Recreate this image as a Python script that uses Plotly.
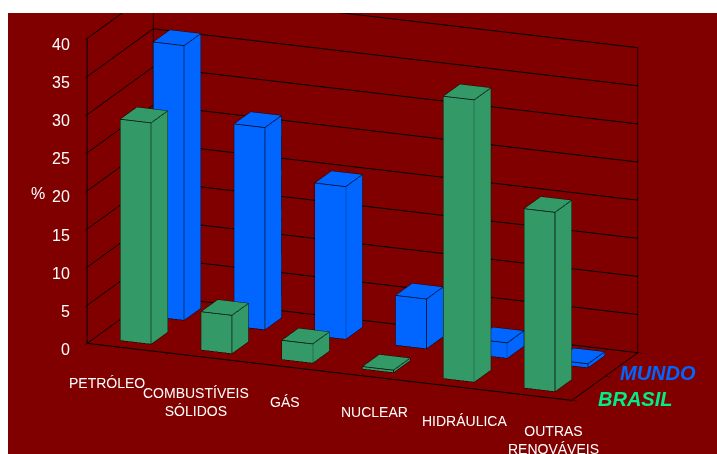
import plotly.graph_objects as go

# Participação de cada fonte na oferta de energia (%)
categorias = ["PETRÓLEO", "COMBUSTÍVEIS<br>SÓLIDOS", "GÁS", "NUCLEAR", "HIDRÁULICA", "OUTRAS<br>RENOVÁVEIS"]
brasil = [29.0, 5.0, 2.5, 0.3, 37.0, 23.5]
mundo = [36.0, 26.5, 20.0, 6.5, 2.0, 0.5]
series_nomes = ["BRASIL", "MUNDO"]
z_ticks = [0, 5, 10, 15, 20, 25, 30, 35, 40]

BG = "#800000"
VERDE = "#339966"
AZUL = "#0066ff"
VERDE_TXT = "#00ee88"
FONT = "Liberation Sans, Arial"
HALF_W = 0.19   # meia largura da barra (eixo das categorias)
HALF_D = 0.25   # meia profundidade da barra (eixo das séries)

X_RANGE = [-0.5, len(categorias) - 0.5]
Y_RANGE = [-0.5, len(series_nomes) - 0.5]
Z_RANGE = [0, 40]


def cuboid_mesh(values, row, color):
    xs, ys, zs, ii, jj, kk = [], [], [], [], [], []
    ex, ey, ez = [], [], []
    for c, v in enumerate(values):
        x0, x1 = c - HALF_W, c + HALF_W
        y0, y1 = row - HALF_D, row + HALF_D
        z0, z1 = 0, v
        b = len(xs)
        corners = [(x0, y0, z0), (x1, y0, z0), (x1, y1, z0), (x0, y1, z0),
                   (x0, y0, z1), (x1, y0, z1), (x1, y1, z1), (x0, y1, z1)]
        for p in corners:
            xs.append(p[0]); ys.append(p[1]); zs.append(p[2])
        faces = [(0, 1, 5), (0, 5, 4),   # frente
                 (1, 2, 6), (1, 6, 5),   # lado direito
                 (2, 3, 7), (2, 7, 6),   # fundo
                 (3, 0, 4), (3, 4, 7),   # lado esquerdo
                 (4, 5, 6), (4, 6, 7),   # topo
                 (0, 2, 1), (0, 3, 2)]   # base
        for a, bb, cc in faces:
            ii.append(b + a); jj.append(b + bb); kk.append(b + cc)
        edges = [(0, 1), (1, 2), (2, 3), (3, 0), (4, 5), (5, 6), (6, 7), (7, 4),
                 (0, 4), (1, 5), (2, 6), (3, 7)]
        for a, bb in edges:
            pa, pb = corners[a], corners[bb]
            ex += [pa[0], pb[0], None]; ey += [pa[1], pb[1], None]; ez += [pa[2], pb[2], None]
    mesh = go.Mesh3d(x=xs, y=ys, z=zs, i=ii, j=jj, k=kk, color=color, flatshading=True,
                     lighting=dict(ambient=1, diffuse=0, specular=0, roughness=1, fresnel=0),
                     hoverinfo="skip", showscale=False)
    lines = go.Scatter3d(x=ex, y=ey, z=ez, mode="lines", line=dict(color="black", width=1.5),
                         hoverinfo="skip", showlegend=False)
    return mesh, lines


fig = go.Figure()
for row, (vals, col) in enumerate([(brasil, VERDE), (mundo, AZUL)]):
    m, l = cuboid_mesh(vals, row, col)
    fig.add_trace(m)
    fig.add_trace(l)

# Contorno das paredes (fundo e lateral esquerda)
xa, xb = X_RANGE
ya, yb = Y_RANGE
za, zb = Z_RANGE
fig.add_trace(go.Scatter3d(
    x=[xa, xa, None, xb, xb, None, xa, xb, None, xa, xa, None, xa, xa],
    y=[yb, yb, None, yb, yb, None, yb, yb, None, ya, yb, None, ya, ya],
    z=[za, zb, None, za, zb, None, za, za, None, za, za, None, za, zb],
    mode="lines", line=dict(color="black", width=1.5), hoverinfo="skip", showlegend=False))

annotations = []
# Rótulos das categorias, abaixo da aresta frontal do piso
for c, nome in enumerate(categorias):
    annotations.append(dict(x=c, y=ya, z=za, text=nome, showarrow=False,
                            xanchor="center", yanchor="top",
                            xshift=-21 + 8.6 * c, yshift=-25,
                            font=dict(family=FONT, size=14, color="white")))
# Valores do eixo vertical
for v in z_ticks:
    annotations.append(dict(x=xa, y=ya, z=v, text=str(v), showarrow=False,
                            xanchor="right", yanchor="middle", xshift=-15, yshift=-6,
                            font=dict(family=FONT, size=16, color="white")))
annotations.append(dict(x=xa, y=ya, z=20, text="%", showarrow=False,
                        xanchor="center", yanchor="middle", xshift=-49, yshift=-3,
                        font=dict(family=FONT, size=16, color="white")))
# Nomes das séries junto ao eixo de profundidade
for row, (nome, cor) in enumerate(zip(series_nomes, [VERDE_TXT, AZUL])):
    annotations.append(dict(x=xb, y=row, z=za, text=f"<b><i>{nome}</i></b>", showarrow=False,
                            xanchor="left", yanchor="middle", xshift=8 - 11 * row,
                            yshift=-11 + 3 * row,
                            font=dict(family=FONT, size=20, color=cor)))

axis_common = dict(showbackground=True, backgroundcolor=BG, showspikes=False,
                   linecolor="black", linewidth=2, showline=True, zeroline=False,
                   showticklabels=False, title=dict(text=""))

fig.update_layout(
    width=717, height=454,
    paper_bgcolor="white",
    margin=dict(l=8, t=13, r=0, b=0),
    showlegend=False,
    scene=dict(
        bgcolor=BG,
        domain=dict(x=[0, 1], y=[0, 1]),
        aspectmode="manual",
        aspectratio=dict(x=2.37, y=0.8, z=1.446),
        camera=dict(eye=dict(x=0.601, y=-1.49, z=0.31), center=dict(x=0, y=0, z=-0.18),
                    up=dict(x=0, y=0, z=1), projection=dict(type="orthographic")),
        xaxis=dict(axis_common, range=X_RANGE, tickvals=[-0.5 + k for k in range(len(categorias) + 1)],
                   showgrid=False, ticks="outside", ticklen=6, tickcolor="black"),
        yaxis=dict(axis_common, range=Y_RANGE, tickvals=[-0.5, 0.5, 1.5],
                   showgrid=False, ticks="outside", ticklen=6, tickcolor="black"),
        zaxis=dict(axis_common, range=Z_RANGE, tickvals=z_ticks, showgrid=True, gridcolor="black",
                   gridwidth=2, ticks="outside", ticklen=5, tickcolor="black"),
        annotations=annotations,
    ),
)

fig.write_html("out.html")
